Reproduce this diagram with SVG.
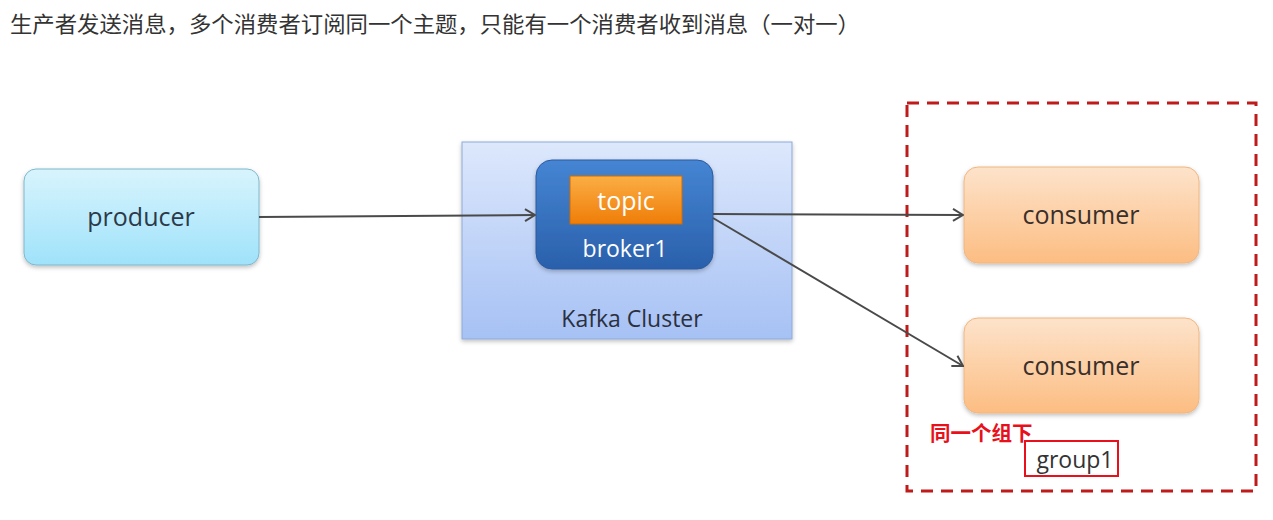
<svg xmlns="http://www.w3.org/2000/svg" width="1273" height="520" viewBox="0 0 1273 520">
<style>
.t{font-family:"Open Sans","Noto Sans","Liberation Sans",sans-serif;text-anchor:middle}
.cjk{font-family:"Noto Sans CJK SC","Noto Sans",sans-serif}
.conn{stroke:#4a4a4a;stroke-width:2;fill:none;marker-end:url(#arr)}
</style>
<defs>
<marker id="arr" markerWidth="12" markerHeight="14" refX="11" refY="7" orient="auto" markerUnits="userSpaceOnUse">
<path d="M1,1 L11,7 L1,13" fill="none" stroke="#4a4a4a" stroke-width="2"/>
</marker>
<linearGradient id="gProd" x1="0" y1="0" x2="0" y2="1"><stop offset="0" stop-color="#d8f4fd"/><stop offset="1" stop-color="#9fe2fa"/></linearGradient>
<linearGradient id="gCl" x1="0" y1="0" x2="0" y2="1"><stop offset="0" stop-color="#dde8fc"/><stop offset="1" stop-color="#a6c1f4"/></linearGradient>
<linearGradient id="gBr" x1="0" y1="0" x2="0" y2="1"><stop offset="0" stop-color="#4585d3"/><stop offset="1" stop-color="#2a60ab"/></linearGradient>
<linearGradient id="gTp" x1="0" y1="0" x2="0" y2="1"><stop offset="0" stop-color="#fbae45"/><stop offset="1" stop-color="#ef7d08"/></linearGradient>
<linearGradient id="gCo" x1="0" y1="0" x2="0" y2="1"><stop offset="0" stop-color="#fde3cb"/><stop offset="1" stop-color="#fcbd82"/></linearGradient>
<filter id="sh" x="-10%" y="-10%" width="120%" height="130%"><feDropShadow dx="0" dy="2" stdDeviation="2" flood-color="#000" flood-opacity="0.25"/></filter>
</defs>
<rect width="1273" height="520" fill="#fff"/>
<text class="cjk" x="10" y="32" font-size="22" fill="#333" textLength="850" lengthAdjust="spacingAndGlyphs">生产者发送消息，多个消费者订阅同一个主题，只能有一个消费者收到消息（一对一）</text>

<g id="producer">
<rect x="24" y="169" width="235" height="96" rx="12" fill="url(#gProd)" stroke="#7fb8cc" stroke-width="1" filter="url(#sh)"/>
<text class="t" x="141" y="226" font-size="25" fill="#2b3a4a">producer</text>
</g>

<g id="kafka-cluster">
<rect x="462" y="142" width="330" height="197" fill="url(#gCl)" stroke="#8fa9d8" stroke-width="1" filter="url(#sh)"/>
<text class="t" x="632" y="327" font-size="23" fill="#2b3040">Kafka Cluster</text>
</g>

<g id="broker1">
<rect x="536" y="160" width="177" height="109" rx="16" fill="url(#gBr)" stroke="#2a5a9e" stroke-width="1" filter="url(#sh)"/>
<text class="t" x="625" y="257" font-size="23" fill="#fff">broker1</text>
</g>

<g id="topic">
<rect x="570" y="176" width="112" height="48" fill="url(#gTp)" stroke="#d06a00" stroke-width="1"/>
<text class="t" x="626" y="210" font-size="25" fill="#fff">topic</text>
</g>

<g id="group1">
<rect x="907" y="103" width="349" height="388" fill="none" stroke="#bf1b1b" stroke-width="3" stroke-dasharray="12,8"/>
<text class="cjk" x="930" y="441" font-size="20.5" font-weight="bold" fill="#e8101a">同一个组下</text>
<rect x="1025" y="441" width="93" height="35" fill="none" stroke="#e8101a" stroke-width="2"/>
<text class="t" x="1075" y="468" font-size="23" fill="#333">group1</text>
</g>

<g id="consumer1">
<rect x="964" y="167" width="235" height="96" rx="14" fill="url(#gCo)" stroke="#f0b680" stroke-width="1" filter="url(#sh)"/>
<text class="t" x="1081" y="224" font-size="25" fill="#3a2f2a">consumer</text>
</g>

<g id="consumer2">
<rect x="964" y="318" width="235" height="95" rx="14" fill="url(#gCo)" stroke="#f0b680" stroke-width="1" filter="url(#sh)"/>
<text class="t" x="1081" y="375" font-size="25" fill="#3a2f2a">consumer</text>
</g>

<g id="connectors">
<line class="conn" x1="259" y1="217" x2="535" y2="215"/>
<line class="conn" x1="713" y1="214" x2="963" y2="215"/>
<line class="conn" x1="713" y1="218" x2="963" y2="366"/>
</g>
</svg>
